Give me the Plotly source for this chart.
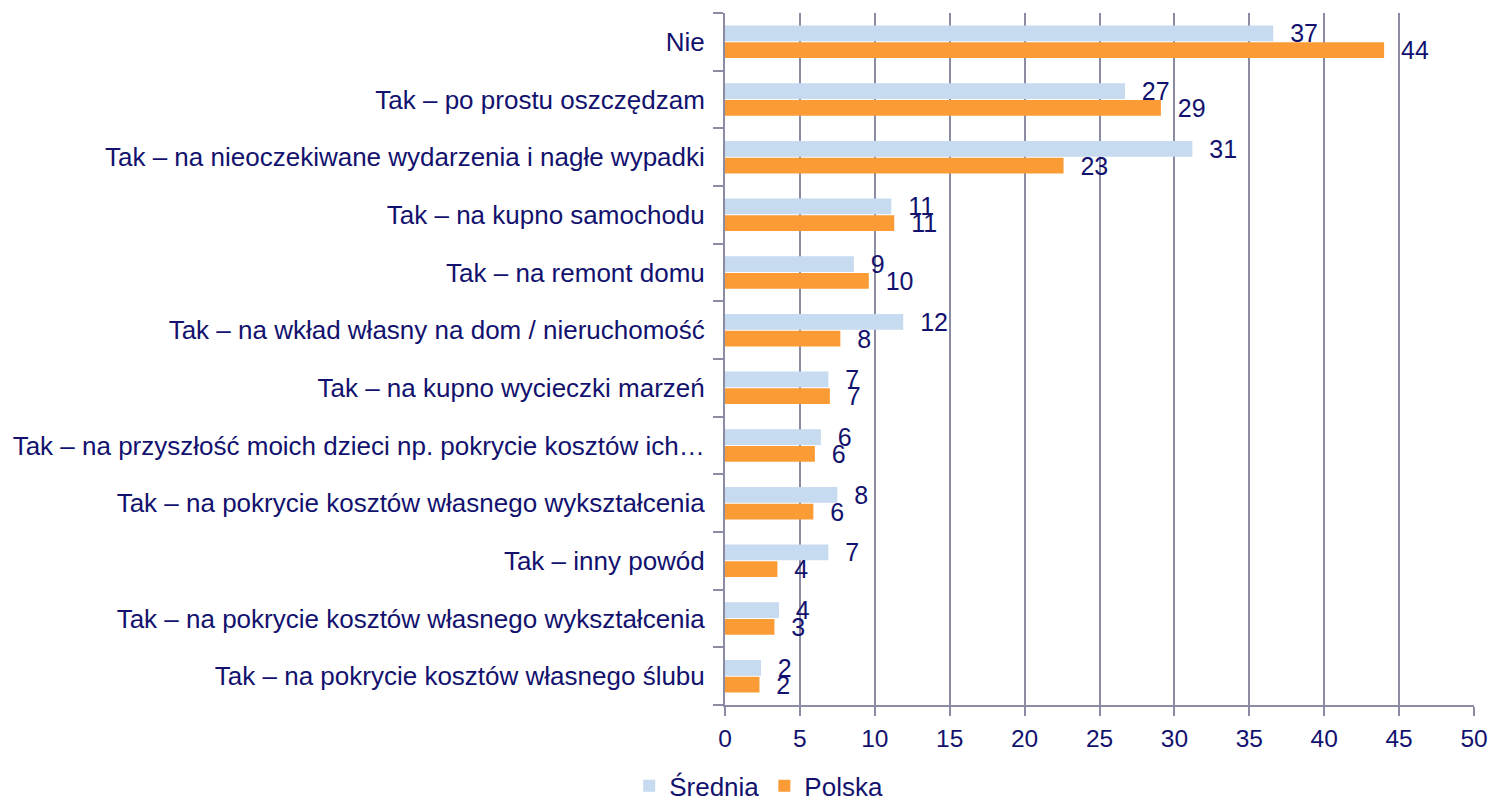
import plotly.graph_objects as go

categories = [
    "Nie",
    "Tak – po prostu oszczędzam",
    "Tak – na nieoczekiwane wydarzenia i nagłe wypadki",
    "Tak – na kupno samochodu",
    "Tak – na remont domu",
    "Tak – na wkład własny na dom / nieruchomość",
    "Tak – na kupno wycieczki marzeń",
    "Tak – na przyszłość moich dzieci np. pokrycie kosztów ich…",
    "Tak – na pokrycie kosztów własnego wykształcenia",
    "Tak – inny powód",
    "Tak – na pokrycie kosztów własnego wykształcenia",
    "Tak – na pokrycie kosztów własnego ślubu",
]
srednia = [36.6, 26.7, 31.2, 11.1, 8.6, 11.9, 6.9, 6.4, 7.5, 6.9, 3.6, 2.4]
polska = [44.0, 29.1, 22.6, 11.3, 9.6, 7.7, 7.0, 6.0, 5.9, 3.5, 3.3, 2.3]
x_ticks = [0, 5, 10, 15, 20, 25, 30, 35, 40, 45, 50]

positions = list(range(len(categories)))

NAVY = "#12126e"
GRID = "#8b8ba3"
FONT = "Liberation Sans, Arial, sans-serif"

fig = go.Figure()
for name, vals, color in [("Średnia", srednia, "#c6daf0"), ("Polska", polska, "#fb9b36")]:
    fig.add_trace(go.Bar(
        name=name,
        y=positions,
        x=vals,
        orientation="h",
        marker=dict(color=color, line=dict(width=0)),
        text=[f"{round(v):d}" for v in vals],
        texttemplate="\u00a0\u00a0%{text}",
        textposition="outside",
        constraintext="none",
        cliponaxis=False,
        textfont=dict(color=NAVY, size=25, family=FONT),
    ))

fig.update_layout(
    width=1490,
    height=803,
    barmode="group",
    bargap=0.42,
    bargroupgap=0.06,
    plot_bgcolor="white",
    paper_bgcolor="white",
    font=dict(family=FONT, size=26.5, color=NAVY),
    margin=dict(l=725, r=16, t=13, b=98, autoexpand=False),
    showlegend=True,
    legend=dict(
        orientation="h",
        x=0.045,
        xanchor="center",
        y=-0.117,
        yanchor="middle",
        font=dict(size=26, color=NAVY, family=FONT),
        itemwidth=30,
        traceorder="normal",
    ),
    xaxis=dict(
        range=[0, 50],
        tickvals=x_ticks,
        ticktext=[str(t) for t in x_ticks],
        showgrid=True,
        gridcolor=GRID,
        gridwidth=2,
        showline=True,
        linecolor=GRID,
        linewidth=2,
        ticks="outside",
        ticklen=9,
        tickwidth=2,
        tickcolor=GRID,
        zeroline=False,
        automargin=False,
        ticklabelstandoff=2,
        tickfont=dict(size=24.5, color=NAVY),
    ),
    yaxis=dict(
        range=[len(categories) - 0.5, -0.5],
        tickvals=positions,
        ticktext=categories,
        ticks="",
        showgrid=False,
        showline=True,
        linecolor=GRID,
        linewidth=2,
        zeroline=False,
        automargin=False,
        ticklabelstandoff=13,
        tickfont=dict(size=26, color=NAVY),
        minor=dict(
            tick0=0.5,
            dtick=1,
            ticks="outside",
            ticklen=10,
            tickwidth=2,
            tickcolor=GRID,
            showgrid=False,
        ),
    ),
)

fig.write_html(
    "out.html",
    config={"displayModeBar": False},
    post_script="document.body.style.margin='0';",
)
